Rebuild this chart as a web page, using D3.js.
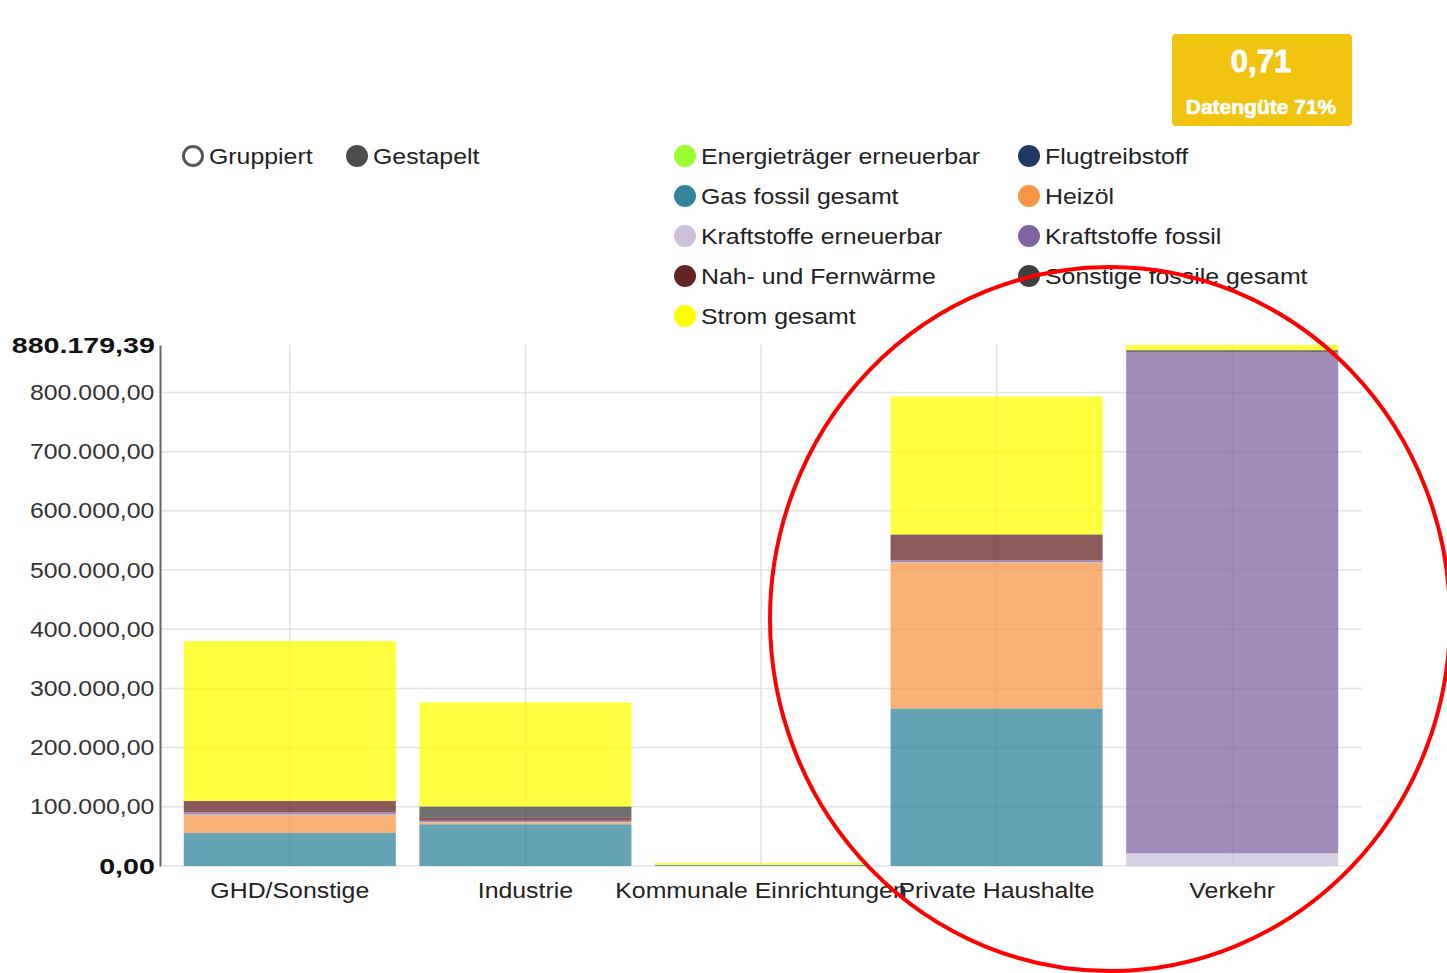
<!DOCTYPE html>
<html>
<head>
<meta charset="utf-8">
<script src="https://cdn.jsdelivr.net/npm/d3@7"></script>
<style>
body{margin:0;background:#fff;}
svg text{font-family:"Liberation Sans",Arial,sans-serif;}
</style>
</head>
<body>
<div id="chart"></div>
<script>
// Kategorien (x-Achse)
const kategorien = ["GHD/Sonstige","Industrie","Kommunale Einrichtungen","Private Haushalte","Verkehr"];
// Energietraeger in Legenden- und Stapelreihenfolge
const energietraeger = ["Energieträger erneuerbar","Flugtreibstoff","Gas fossil gesamt","Heizöl","Kraftstoffe erneuerbar","Kraftstoffe fossil","Nah- und Fernwärme","Sonstige fossile gesamt","Strom gesamt"];
const farben = ["#99ff33","#1f3864","#31849b","#f79646","#ccc0da","#8064a2","#632423","#404040","#ffff00"];

// Werte je Kategorie, gleiche Reihenfolge wie kategorien
const energietraegerErneuerbar = [0,0,0,0,0];
const flugtreibstoff = [0,0,0,0,0];
const gasFossil = [56000,70500,1500,266000,0];
const heizoel = [30000,3000,0,246000,0];
const kraftstoffeErneuerbar = [1000,500,0,1000,21500];
const kraftstoffeFossil = [4000,2500,0,3500,846000];
const nahFernwaerme = [19000,6000,0,42700,0];
const sonstigeFossil = [0,18000,300,1000,4000];
const strom = [270000,176000,3500,233000,8679.39];

const yTicks = [0,100000,200000,300000,400000,500000,600000,700000,800000];
const modi = ["Gruppiert","Gestapelt"];
const datenguete = "0,71";
const datengueteText = "Datengüte 71%";

const W = 1447, H = 973;
const STRECK = 1.13; // Text ist im Original etwas breit gezogen

const reihen = [energietraegerErneuerbar,flugtreibstoff,gasFossil,heizoel,kraftstoffeErneuerbar,kraftstoffeFossil,nahFernwaerme,sonstigeFossil,strom];

// Tabelle fuer d3.stack bauen
const tabelle = kategorien.map(function(k,i){
   let zeile = {kategorie:k};
   energietraeger.forEach(function(e,j){ zeile[e] = reihen[j][i]; });
   return zeile;
});
const summen = tabelle.map(function(z){ return d3.sum(energietraeger, function(e){ return z[e]; }); });
const yMax = d3.max(summen);

const de = d3.formatLocale({decimal:",",thousands:".",grouping:[3],currency:["","€"]});
const fmt = de.format(",.2f");

const svg = d3.select("#chart").append("svg").attr("width",W).attr("height",H);

const x = d3.scaleBand().domain(kategorien).range([172,1350]).paddingInner(0.1).paddingOuter(0.05);
const y = d3.scaleLinear().domain([0,yMax]).range([866,345]);

// Gitter
svg.append("g").selectAll("line").data(yTicks).join("line")
   .attr("x1",160).attr("x2",1362)
   .attr("y1",d=>y(d)).attr("y2",d=>y(d))
   .attr("stroke","#e3e3e3").attr("stroke-width",1.5);
svg.append("g").selectAll("line").data(kategorien).join("line")
   .attr("x1",d=>x(d)+x.bandwidth()/2).attr("x2",d=>x(d)+x.bandwidth()/2)
   .attr("y1",y(yMax)).attr("y2",y(0))
   .attr("stroke","#e3e3e3").attr("stroke-width",1.5);

// Gestapelte Balken
const stapel = d3.stack().keys(energietraeger)(tabelle);
svg.append("g").selectAll("g").data(stapel).join("g")
   .attr("fill",(d,i)=>farben[i]).attr("fill-opacity",0.75)
   .selectAll("rect").data(d=>d).join("rect")
   .attr("x",d=>x(d.data.kategorie))
   .attr("width",x.bandwidth())
   .attr("y",d=>y(d[1]))
   .attr("height",d=>Math.max(0,y(d[0])-y(d[1])));

// y-Achse
const yAchse = svg.append("g").attr("transform","translate(160,0)")
   .call(d3.axisLeft(y).tickValues(yTicks.concat([yMax])).tickSize(0).tickPadding(5).tickFormat(fmt));
yAchse.select(".domain").attr("stroke","#666").attr("stroke-width",2);
yAchse.selectAll("text")
   .attr("font-size",22).attr("fill","#333")
   .attr("font-family","'Liberation Sans',Arial,sans-serif")
   .attr("transform","scale("+STRECK+",1)");
yAchse.selectAll("text").filter(d=>d===0||d===yMax)
   .attr("font-weight","bold").attr("fill","#111")
   .attr("transform","scale(1.3,1)").attr("x",-4);

// x-Achse
const xAchse = svg.append("g").attr("transform","translate(0,866)")
   .call(d3.axisBottom(x).tickSize(0).tickPadding(0));
xAchse.select(".domain").remove();
xAchse.selectAll("text")
   .attr("font-size",22).attr("fill","#222").attr("dy",0).attr("y",32)
   .attr("font-family","'Liberation Sans',Arial,sans-serif")
   .attr("transform","scale("+STRECK+",1)");
xAchse.selectAll(".tick").attr("transform",d=>"translate("+(x(d)+x.bandwidth()/2)+",0)");

// Modus-Auswahl (Gruppiert / Gestapelt)
const modusX = [193,357];
modi.forEach(function(m,i){
   svg.append("circle").attr("cx",modusX[i]).attr("cy",156).attr("r",i==0?9.5:11)
      .attr("fill",i==0?"#fff":"#4d4d4d")
      .attr("stroke",i==0?"#555":"none").attr("stroke-width",3);
   svg.append("text").text(m).attr("font-size",22).attr("fill","#222")
      .attr("transform","translate("+(modusX[i]+16)+",164) scale("+STRECK+",1)");
});

// Legende, zwei Spalten
energietraeger.forEach(function(e,i){
   let lx = i%2==0 ? 685 : 1029;
   let ly = 156 + Math.floor(i/2)*40;
   svg.append("circle").attr("cx",lx).attr("cy",ly).attr("r",11).attr("fill",farben[i]);
   svg.append("text").text(e).attr("font-size",22).attr("fill","#222")
      .attr("transform","translate("+(lx+16)+","+(ly+8)+") scale("+STRECK+",1)");
});

// Datenguete-Kachel
svg.append("rect").attr("x",1172).attr("y",34).attr("width",180).attr("height",92).attr("rx",4).attr("fill","#f0c30f");
svg.append("text").text(datenguete).attr("x",1261).attr("y",72).attr("text-anchor","middle")
   .attr("font-family","'Open Sans',sans-serif").attr("font-weight",700).attr("font-size",31).attr("fill","#fff")
   .attr("stroke","#fff").attr("stroke-width",0.8);
svg.append("text").text(datengueteText).attr("x",1261).attr("y",114).attr("text-anchor","middle")
   .attr("font-family","'Open Sans',sans-serif").attr("font-weight",700).attr("font-size",21).attr("fill","#fff")
   .attr("stroke","#fff").attr("stroke-width",0.6);

// roter Markierungskreis
svg.append("ellipse").attr("cx",1110).attr("cy",619).attr("rx",340).attr("ry",352)
   .attr("fill","none").attr("stroke","#f00").attr("stroke-width",4);
</script>
</body>
</html>
